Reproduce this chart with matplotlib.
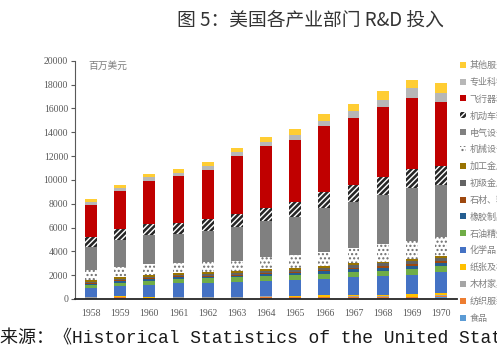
import matplotlib
matplotlib.use("Agg")
import matplotlib.pyplot as plt
from matplotlib.patches import Patch
import numpy as np

plt.rcParams['font.family'] = ['Noto Sans CJK SC', 'DejaVu Sans']
plt.rcParams['hatch.linewidth'] = 1.0

years = [1958, 1959, 1960, 1961, 1962, 1963, 1964, 1965, 1966, 1967, 1968, 1969, 1970]

food       = [60, 50, 50, 80, 80, 80, 100, 95, 100, 110, 110, 110, 130]
textile    = [30, 100, 30, 40, 40, 40, 50, 50, 45, 60, 85, 45, 140]
wood       = [50, 50, 30, 40, 40, 40, 60, 50, 50, 100, 50, 40, 65]
paper      = [55, 50, 85, 35, 35, 35, 40, 85, 140, 65, 110, 225, 140]
chemicals  = [750, 810, 975, 1115, 1170, 1255, 1255, 1310, 1365, 1505, 1560, 1620, 1760]
petroleum  = [225, 305, 365, 360, 360, 360, 420, 420, 390, 390, 475, 475, 500]
rubber     = [55, 110, 110, 140, 140, 140, 170, 170, 225, 280, 225, 225, 250]
stone      = [85, 85, 85, 85, 85, 85, 110, 110, 110, 110, 140, 195, 165]
primary    = [140, 140, 140, 140, 140, 140, 170, 170, 195, 195, 225, 280, 280]
fabricated = [140, 110, 140, 140, 140, 140, 140, 140, 140, 165, 165, 140, 140]
machinery  = [840, 890, 920, 840, 890, 890, 1030, 1090, 1200, 1310, 1480, 1535, 1675]
electrical = [1950, 2260, 2480, 2480, 2595, 2870, 2985, 3210, 3680, 3850, 4130, 4465, 4325]
motor      = [840, 890, 890, 920, 1030, 1060, 1145, 1255, 1340, 1395, 1505, 1535, 1590]
aircraft   = [2650, 3190, 3580, 3900, 4100, 4880, 5130, 5155, 5580, 5665, 5835, 5985, 5350]
instrument = [280, 310, 335, 250, 310, 310, 335, 420, 420, 560, 640, 810, 755]
other      = [220, 250, 305, 335, 335, 335, 420, 500, 585, 640, 755, 725, 835]

labels = ['食品', '纺织服装', '木材家具', '纸张及相关产品', '化学品', '石油精炼', '橡胶制品',
          '石材、粘土和玻璃', '初级金属', '加工金属', '机械设备', '电气设备和通信',
          '机动车辆及其他运输设备', '飞行器和导弹', '专业科学仪器', '其他服务业']
series = [food, textile, wood, paper, chemicals, petroleum, rubber, stone, primary,
          fabricated, machinery, electrical, motor, aircraft, instrument, other]

# styles: (facecolor, hatch, hatchcolor)
styles = [
    ('#5B9BD5', None, None),
    ('#ED7D31', None, None),
    ('#A5A5A5', None, None),
    ('#FFC000', None, None),
    ('#4472C4', None, None),
    ('#70AD47', None, None),
    ('#255E91', None, None),
    ('#9E480E', None, None),
    ('#636363', None, None),
    ('#997300', None, None),
    ('#FFFFFF', '....', '#6E6E6E'),
    ('#808080', None, None),
    ('#262626', '//////', '#FFFFFF'),
    ('#C00000', None, None),
    ('#B7B7B7', None, None),
    ('#FFCD33', None, None),
]

fig = plt.figure(figsize=(4.97, 3.52), dpi=100)
ax = fig.add_axes([75/497, 1 - 299/352, (457 - 75)/497, (299 - 60.7)/352])

x = np.arange(len(years))
bottom = np.zeros(len(years))
handles = []
for vals, lab, (fc, hatch, hc) in zip(series, labels, styles):
    v = np.array(vals, dtype=float)
    if hatch:
        ax.bar(x, v, width=0.41, bottom=bottom, color=fc, edgecolor=hc, hatch=hatch, linewidth=0)
        handles.append(Patch(facecolor=fc, edgecolor=hc, hatch=hatch, linewidth=0, label=lab))
    else:
        ax.bar(x, v, width=0.41, bottom=bottom, color=fc, linewidth=0)
        handles.append(Patch(facecolor=fc, linewidth=0, label=lab))
    bottom += v

ax.set_xlim(-0.55, len(years) - 0.45)
ax.set_ylim(0, 20000)
ax.set_yticks(np.arange(0, 20001, 2000))
ax.set_xticks(x)
ax.set_xticklabels([str(y) for y in years])
for t in ax.get_xticklabels() + ax.get_yticklabels():
    t.set_fontfamily('Liberation Serif')
    t.set_fontsize(7)
    t.set_color('#595959')
ax.tick_params(axis='x', length=0, pad=7)
ax.tick_params(axis='y', length=3, width=0.8, color='#595959', pad=2)
ax.spines['top'].set_visible(False)
ax.spines['right'].set_visible(False)
ax.spines['left'].set_color('#595959')
ax.spines['left'].set_linewidth(0.8)
ax.spines['bottom'].set_color('#262626')
ax.spines['bottom'].set_linewidth(1.3)

fig.text(88/497, 1 - 66/352, '百万美元', fontsize=7, color='#7F7F7F', va='center', ha='left')

fig.text(310/497, 1 - 20/352, '图 5：美国各产业部门 R&D 投入', fontsize=13.5, color='#333333',
         ha='center', va='center')

leg = fig.legend(handles=handles[::-1], loc='upper left',
                 bbox_to_anchor=(460/497, 1 - 61/352), bbox_transform=fig.transFigure,
                 frameon=False, fontsize=6.5, labelspacing=0.86, handlelength=0.65,
                 handleheight=0.65, handletextpad=0.4, borderpad=0, borderaxespad=0)
for t in leg.get_texts():
    t.set_color('#7F7F7F')

fig.text(0, 1 - 343/352, '来源：《Historical Statistics of the United States》', fontsize=13,
         family=['Liberation Mono', 'Noto Sans CJK SC'], color='#1A1A1A', ha='left', va='baseline')

fig.savefig('out.png', dpi=100)
